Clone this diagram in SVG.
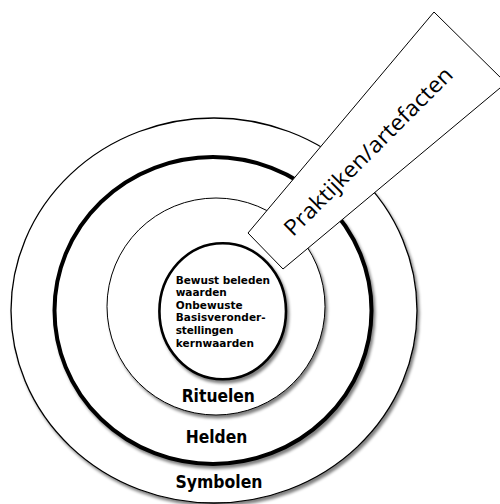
<svg xmlns="http://www.w3.org/2000/svg" width="500" height="504" viewBox="0 0 500 504">
<defs>
<filter id="sh" x="-10%" y="-10%" width="125%" height="125%">
<feGaussianBlur in="SourceAlpha" stdDeviation="1.5"/>
<feOffset dx="2" dy="2.5" result="b"/>
<feComponentTransfer><feFuncA type="linear" slope="0.5"/></feComponentTransfer>
<feMerge><feMergeNode/><feMergeNode in="SourceGraphic"/></feMerge>
</filter>
<style>
.ring{fill:#fff;stroke:#000;filter:url(#sh)}
.lbl{font-family:"DejaVu Sans",Verdana,sans-serif;font-weight:bold;font-size:17px;fill:#000;text-anchor:middle}
.core{font-family:"DejaVu Sans",Verdana,sans-serif;font-weight:bold;font-size:10.5px;fill:#000}
.prak{font-family:"Open Sans","Noto Sans",sans-serif;font-size:22px;fill:#000;text-anchor:middle}
</style>
</defs>
<rect width="500" height="504" fill="#fff"/>
<g id="symbolen">
<ellipse class="ring" cx="214" cy="310.5" rx="203" ry="192.5" stroke-width="1.3"/>
<text class="lbl" x="219" y="488" textLength="87" lengthAdjust="spacingAndGlyphs">Symbolen</text>
</g>
<g id="helden">
<ellipse class="ring" cx="213" cy="310.5" rx="158.5" ry="153.5" stroke-width="4"/>
<text class="lbl" x="216.5" y="443" textLength="61.6" lengthAdjust="spacingAndGlyphs">Helden</text>
</g>
<g id="rituelen">
<ellipse class="ring" cx="216" cy="306.5" rx="109" ry="108.5" stroke-width="1"/>
<text class="lbl" x="218.3" y="401.5" textLength="73.3" lengthAdjust="spacingAndGlyphs">Rituelen</text>
</g>
<g id="kern">
<ellipse class="ring" cx="222.7" cy="311.3" rx="63.3" ry="68" stroke-width="2.6"/>
<text class="core" x="175.7" y="284" textLength="94.3" lengthAdjust="spacing">Bewust beleden</text>
<text class="core" x="175.7" y="296" textLength="51" lengthAdjust="spacing">waarden</text>
<text class="core" x="175.7" y="309" textLength="67" lengthAdjust="spacing">Onbewuste</text>
<text class="core" x="175.7" y="321" textLength="90" lengthAdjust="spacing">Basisveronder-</text>
<text class="core" x="175.7" y="334.3" textLength="57.7" lengthAdjust="spacing">stellingen</text>
<text class="core" x="175.7" y="347.3" textLength="78.3" lengthAdjust="spacing">kernwaarden</text>
</g>
<g id="praktijken">
<polygon points="248,233 434,12 506,83 283,269" fill="#fff" stroke="#000" stroke-width="1"/>
<text class="prak" transform="translate(368,151) rotate(-45)" x="0" y="8" textLength="228" lengthAdjust="spacingAndGlyphs">Praktijken/artefacten</text>
</g>
</svg>
